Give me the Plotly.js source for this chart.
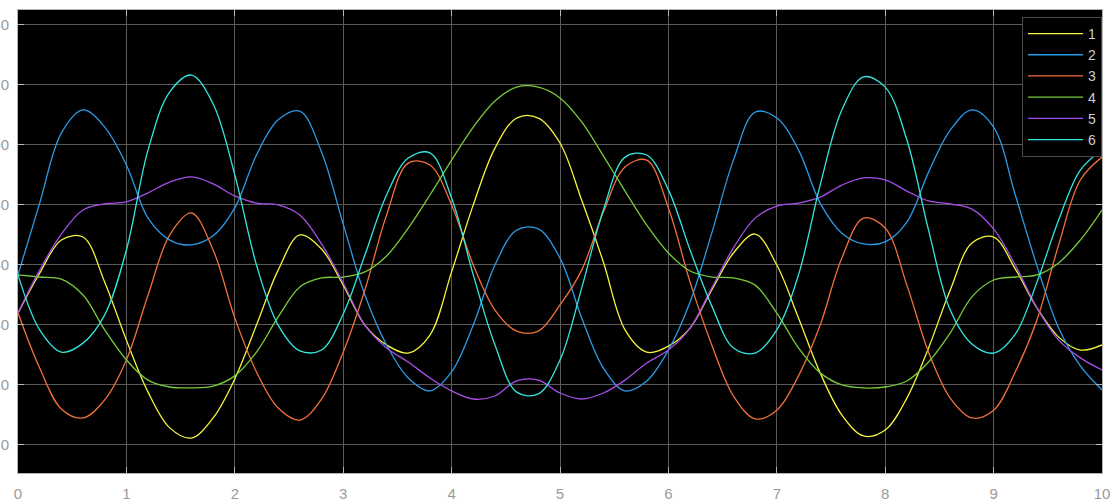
<!DOCTYPE html>
<html>
<head>
<meta charset="utf-8">
<script src="https://cdn.plot.ly/plotly-3.0.1.min.js"></script>
<style>html,body{margin:0;padding:0;background:#fff;overflow:hidden}#chart{width:1120px;height:500px}</style>
</head>
<body>
<div id="chart"></div>
<script>
const xValues = [0,0.2,0.4,0.6,0.8,1.0,1.2,1.4,1.6,1.8,2.0,2.2,2.4,2.6,2.8,3.0,3.2,3.4,3.6,3.8,4.0,4.2,4.4,4.6,4.8,5.0,5.2,5.4,5.6,5.8,6.0,6.2,6.4,6.6,6.8,7.0,7.2,7.4,7.6,7.8,8.0,8.2,8.4,8.6,8.8,9.0,9.2,9.4,9.6,9.8,10.0];

const series1 = [43.9,57.2,68.2,69.2,54.2,34.9,17.6,5.7,2.3,9.0,22.0,39.9,58.2,69.9,65.2,53.2,39.9,33.3,30.6,36.6,57.6,79.9,98.8,108.8,108.8,100.5,81.5,60.9,38.3,30.9,32.9,38.9,51.6,63.9,70.2,59.9,42.3,24.0,10.0,3.0,5.0,15.6,32.3,51.6,67.2,69.2,58.6,45.6,35.9,31.6,33.3];
const series2 = [56.6,80.5,103.8,111.5,105.8,93.2,75.5,68.2,66.6,69.6,78.9,96.5,108.2,111.1,97.5,73.5,49.9,33.3,22.3,18.0,24.3,39.9,59.9,71.5,71.9,62.2,42.3,25.6,18.0,21.3,31.6,47.6,70.5,94.8,110.8,108.8,98.2,80.5,70.5,66.9,67.6,74.2,90.8,104.8,111.5,105.8,83.2,59.6,38.9,26.3,18.3];
const series3 = [43.9,25.6,12.0,9.0,15.0,28.3,49.9,69.9,77.2,64.9,42.3,24.3,12.3,8.3,15.3,30.9,51.6,76.5,93.8,93.2,79.9,59.9,44.9,37.9,37.9,46.6,58.2,77.5,92.5,94.8,78.9,54.2,33.3,16.3,8.7,11.6,23.0,39.9,62.2,75.5,72.2,53.2,30.9,15.6,9.0,11.6,24.3,41.6,66.6,88.2,95.8];
const series4 = [56.6,55.9,55.2,49.9,38.3,28.3,21.6,19.3,19.0,19.6,23.0,30.9,42.6,52.6,55.6,55.9,57.6,62.9,72.2,83.2,94.8,105.8,114.5,119.1,119.1,115.5,107.5,96.2,84.5,73.2,63.9,57.9,55.9,55.6,53.2,43.9,32.3,24.0,20.0,19.0,19.3,21.3,27.6,37.3,49.3,54.9,55.9,56.6,60.6,68.2,78.2];
const series5 = [43.9,58.2,70.2,78.2,80.2,80.9,83.9,87.5,89.2,86.9,82.9,80.5,79.9,76.5,66.9,53.9,39.9,32.3,27.6,22.3,18.0,15.3,16.3,21.3,21.6,17.3,15.3,17.3,21.6,27.3,31.6,38.9,52.2,65.6,75.5,79.5,80.5,82.5,86.5,88.9,88.2,84.5,81.2,80.2,78.5,71.9,59.9,45.6,34.9,29.0,25.0];
const series6 = [56.6,38.3,30.9,33.9,43.3,64.9,98.2,117.5,123.1,113.5,89.9,59.9,39.9,31.3,31.6,43.6,63.2,83.2,95.5,97.2,82.2,56.6,33.3,17.6,17.0,28.3,52.2,78.2,95.8,96.5,84.9,64.9,46.3,32.3,30.6,38.3,56.6,86.5,111.5,122.5,119.1,101.5,71.5,44.9,33.6,30.6,36.9,54.2,74.9,91.5,98.2];

const seriesNames = ['1','2','3','4','5','6'];
const seriesColors = ['#f5f53c','#2b9be8','#f2703a','#78cc3a','#a64ee6','#33e6e0'];
const allSeries = [series1, series2, series3, series4, series5, series6];

const xTicks = [0,1,2,3,4,5,6,7,8,9,10];
const yTicks = [0,20,40,60,80,100,120,140];

const traces = allSeries.map((ys, i) => ({
  x: xValues, y: ys, type: 'scatter', mode: 'lines', name: seriesNames[i],
  line: {color: seriesColors[i], width: 1.3, shape: 'spline', smoothing: 1}
}));

const axisCommon = {
  showgrid: true, gridcolor: '#5a5a5a', gridwidth: 1, zeroline: false,
  showline: true, linecolor: '#b4b4b4', linewidth: 1, mirror: 'ticks',
  ticks: 'inside', ticklen: 6, tickcolor: '#b4b4b4',
  tickfont: {family: 'Liberation Sans, Arial, sans-serif', size: 15, color: '#9a9a9a'},
  automargin: false
};

const layout = {
  width: 1120, height: 500,
  paper_bgcolor: '#ffffff', plot_bgcolor: '#000000',
  margin: {l: 18, r: 18, t: 10, b: 27, pad: 0},
  showlegend: true,
  xaxis: Object.assign({}, axisCommon, {range: [0, 10], tickvals: xTicks, ticklabelstandoff: 7}),
  yaxis: Object.assign({}, axisCommon, {range: [-9.32, 144.76], tickvals: yTicks, ticklabelstandoff: 5}),
  legend: {
    x: 1, xanchor: 'right', y: 0.985, yanchor: 'top',
    bgcolor: '#000000', bordercolor: '#4a4a4a', borderwidth: 1,
    font: {family: 'Liberation Sans, Arial, sans-serif', size: 14, color: '#cccccc'},
    itemwidth: 55,
    tracegroupgap: 0
  }
};

Plotly.newPlot('chart', traces, layout, {displayModeBar: false, staticPlot: true});
</script>
</body>
</html>
